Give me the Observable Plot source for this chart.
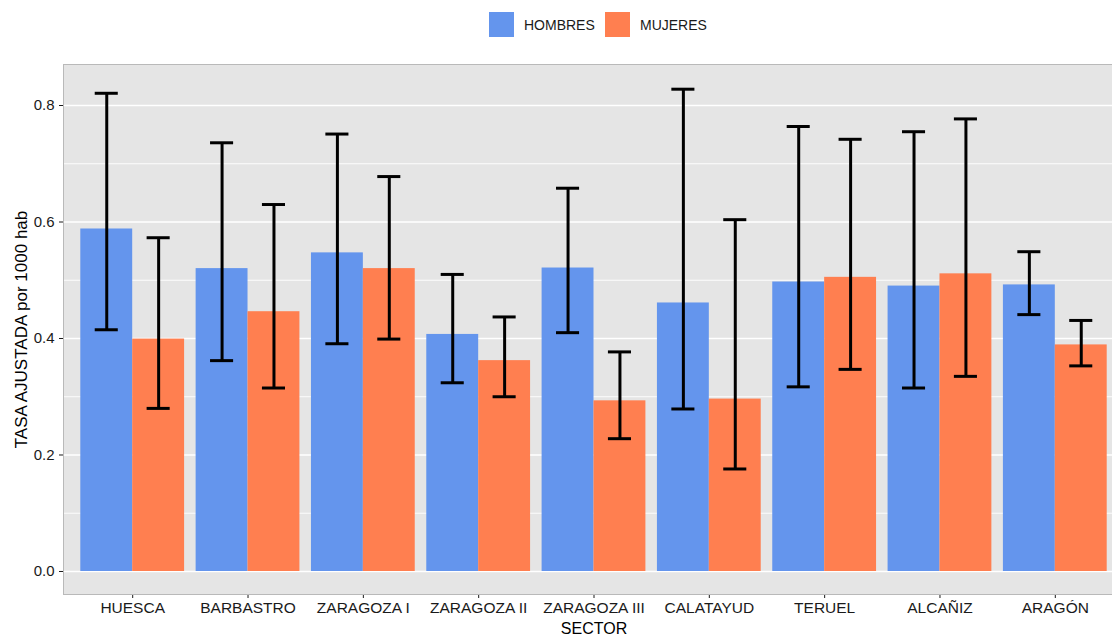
<!DOCTYPE html>
<html>
<head>
<meta charset="utf-8">
<script src="https://cdn.jsdelivr.net/npm/d3@7"></script>
<script src="https://cdn.jsdelivr.net/npm/@observablehq/plot@0.6"></script>
<style>
html, body { margin: 0; padding: 0; background: #fff; overflow: hidden; width: 1112px; height: 635px; }
body { font-family: "Liberation Sans", Arial, sans-serif; }
#legend { position: relative; height: 50px; width: 1112px; }
#legend .key { position: absolute; top: 12px; width: 25px; height: 25px; }
#legend .lab { position: absolute; top: 16px; font-size: 14px; line-height: 18px; color: #1a1a1a; }
#chart { width: 1124px; height: 585px; }
#chart svg { max-width: none !important; display: block; }
#chart svg g[aria-label="x-axis"] text,
#chart svg g[aria-label="x-axis tick label"] text { font-size: 15.5px; }
</style>
</head>
<body>
<div id="legend"></div>
<div id="chart"></div>
<script>
const sectors = ["HUESCA", "BARBASTRO", "ZARAGOZA I", "ZARAGOZA II", "ZARAGOZA III", "CALATAYUD", "TERUEL", "ALCAÑIZ", "ARAGÓN"];
const groups = ["HOMBRES", "MUJERES"];
const groupColors = ["#6495ED", "#FF7F50"];

const hombres   = [0.588, 0.520, 0.547, 0.407, 0.521, 0.461, 0.497, 0.490, 0.492];
const hombresLo = [0.415, 0.362, 0.391, 0.324, 0.410, 0.279, 0.317, 0.315, 0.441];
const hombresHi = [0.821, 0.736, 0.751, 0.510, 0.658, 0.828, 0.764, 0.755, 0.549];

const mujeres   = [0.399, 0.446, 0.520, 0.362, 0.293, 0.296, 0.505, 0.511, 0.389];
const mujeresLo = [0.280, 0.315, 0.399, 0.300, 0.228, 0.176, 0.347, 0.335, 0.353];
const mujeresHi = [0.573, 0.630, 0.678, 0.437, 0.377, 0.604, 0.742, 0.777, 0.431];

const yTicks = [0, 0.2, 0.4, 0.6, 0.8];
const yMinor = [0.1, 0.3, 0.5, 0.7];

// dodge layout: group width 0.9 of a band, two bars each 0.45
const half = 0.225;
const rows = [];
sectors.forEach((s, i) => {
  rows.push({sector: s, i, grupo: groups[0], pos: i - half, v: hombres[i], lo: hombresLo[i], hi: hombresHi[i]});
  rows.push({sector: s, i, grupo: groups[1], pos: i + half, v: mujeres[i], lo: mujeresLo[i], hi: mujeresHi[i]});
});

// legend
const legend = document.getElementById("legend");
const legendX = [489, 605];
groups.forEach((g, k) => {
  const key = document.createElement("div");
  key.className = "key";
  key.style.left = legendX[k] + "px";
  key.style.background = groupColors[k];
  legend.appendChild(key);
  const lab = document.createElement("div");
  lab.className = "lab";
  lab.style.left = (legendX[k] + 35) + "px";
  lab.textContent = g;
  legend.appendChild(lab);
});

const ew = 3;
const cap = 0.1;

const chart = Plot.plot({
  width: 1124,
  height: 585,
  marginLeft: 63,
  marginRight: 0,
  marginTop: 14,
  marginBottom: 41,
  style: {fontFamily: "Liberation Sans, Arial, sans-serif", fontSize: "15px", color: "#1a1a1a", background: "transparent", overflow: "visible", maxWidth: "none"},
  x: {type: "linear", domain: [-0.6, sectors.length - 0.4], ticks: sectors.map((_, i) => i), tickFormat: i => sectors[i], tickSize: 4, tickPadding: 3, label: null},
  y: {domain: [-0.0395, 0.8704], ticks: yTicks, tickFormat: d3.format(".1f"), tickSize: 4, tickPadding: 5, label: null},
  color: {domain: groups, range: groupColors},
  marks: [
    Plot.frame({fill: "#E5E5E5"}),
    Plot.ruleY(yMinor, {stroke: "#ffffff", strokeWidth: 0.9}),
    Plot.ruleY(yTicks, {stroke: "#ffffff", strokeWidth: 1.7}),
    Plot.rectY(rows, {x1: d => d.pos - half, x2: d => d.pos + half, y1: 0, y2: "v", fill: "grupo"}),
    Plot.ruleX(rows, {x: "pos", y1: "lo", y2: "hi", stroke: "black", strokeWidth: ew}),
    Plot.ruleY(rows, {y: "lo", x1: d => d.pos - cap, x2: d => d.pos + cap, stroke: "black", strokeWidth: ew}),
    Plot.ruleY(rows, {y: "hi", x1: d => d.pos - cap, x2: d => d.pos + cap, stroke: "black", strokeWidth: ew}),
    Plot.frame({stroke: "#b9b9b9", strokeWidth: 1}),
    Plot.text(["TASA AJUSTADA por 1000 hab"], {text: d => d, frameAnchor: "left", textAnchor: "middle", lineAnchor: "middle", dx: -42, rotate: -90, fontSize: 17, fill: "black"}),
    Plot.text(["SECTOR"], {text: d => d, frameAnchor: "bottom", textAnchor: "middle", lineAnchor: "middle", dy: 34, fontSize: 16, fill: "black"})
  ]
});
document.getElementById("chart").appendChild(chart);
</script>
</body>
</html>
